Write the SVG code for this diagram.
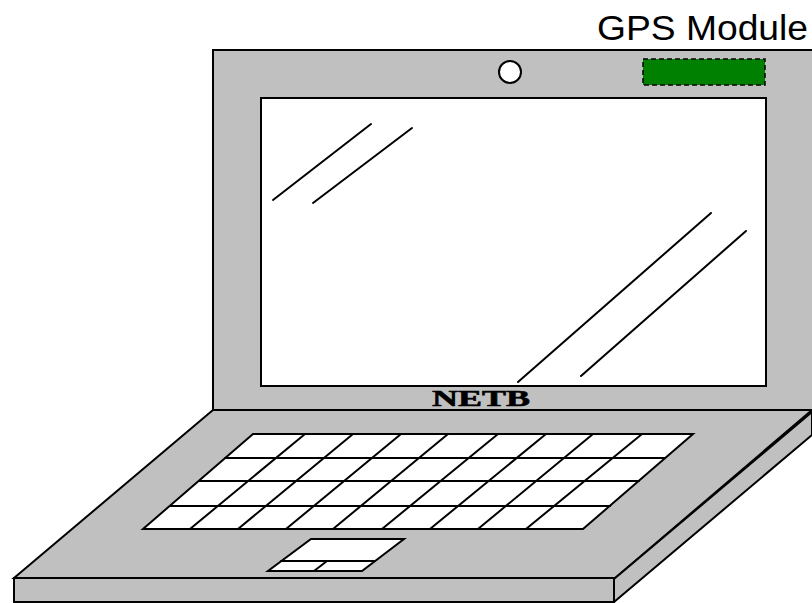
<svg xmlns="http://www.w3.org/2000/svg" width="812" height="603" viewBox="0 0 812 603">
  <style>
    .body { fill: #c0c0c0; stroke: #000; stroke-width: 2; stroke-linejoin: miter; }
    .white { fill: #fff; stroke: #000; stroke-width: 2; }
    .line { fill: none; stroke: #000; stroke-width: 2; stroke-linecap: round; }
    .label { font-family: "Liberation Sans", Arial, sans-serif; fill: #000; }
    .brand { font-family: "Liberation Serif", "DejaVu Serif", serif; font-weight: bold; fill: #000; stroke: #000; stroke-width: 0.6; }
  </style>
  <rect width="812" height="603" fill="#fff"/>

  <!-- Lid -->
  <g id="lid">
    <rect class="body" x="213" y="50" width="620" height="360"/>
    <rect class="white" x="261" y="98" width="505" height="288"/>
    <line class="line" x1="273" y1="200" x2="371" y2="124"/>
    <line class="line" x1="313" y1="203" x2="412" y2="128"/>
    <line class="line" x1="518" y1="382" x2="711" y2="213"/>
    <line class="line" x1="581" y1="376" x2="746" y2="231"/>
    <text class="brand" x="432" y="406" font-size="23" textLength="98" lengthAdjust="spacingAndGlyphs">NETB</text>
  </g>

  <!-- Camera -->
  <g id="camera">
    <circle class="white" cx="510" cy="72" r="11"/>
  </g>

  <!-- GPS module -->
  <g id="gps-module">
    <rect x="643" y="59" width="122" height="26" fill="#008000" stroke="#000" stroke-width="1.5" stroke-dasharray="5,3"/>
    <text class="label" x="597" y="40" font-size="35" textLength="211" lengthAdjust="spacingAndGlyphs">GPS Module</text>
  </g>

  <!-- Base -->
  <g id="base">
    <polygon class="body" points="213,410 812,410 614,579 14,578"/>
    <rect class="body" x="14" y="578" width="600" height="24"/>
    <polygon class="body" points="614,579 812,412 812,435 614,602"/>
  </g>

  <!-- Keyboard -->
  <g id="keyboard">
    <polygon class="white" points="253,434 693,434 583,529 143,529"/>
    <g class="line">
      <line x1="225" y1="458" x2="665" y2="458"/>
      <line x1="199" y1="481" x2="639" y2="481"/>
      <line x1="170" y1="506" x2="610" y2="506"/>
      <line x1="305" y1="434" x2="190" y2="529"/>
      <line x1="353" y1="434" x2="238" y2="529"/>
      <line x1="401" y1="434" x2="286" y2="529"/>
      <line x1="448" y1="434" x2="333" y2="529"/>
      <line x1="498" y1="434" x2="382" y2="529"/>
      <line x1="546" y1="434" x2="430" y2="529"/>
      <line x1="593" y1="434" x2="478" y2="529"/>
      <line x1="642" y1="434" x2="526" y2="529"/>
    </g>
  </g>

  <!-- Touchpad -->
  <g id="touchpad">
    <polygon class="white" points="311,539 404,539 362,571 268,571"/>
    <line class="line" x1="281" y1="561" x2="375" y2="561"/>
    <line class="line" x1="327" y1="561" x2="314" y2="571"/>
  </g>
</svg>
